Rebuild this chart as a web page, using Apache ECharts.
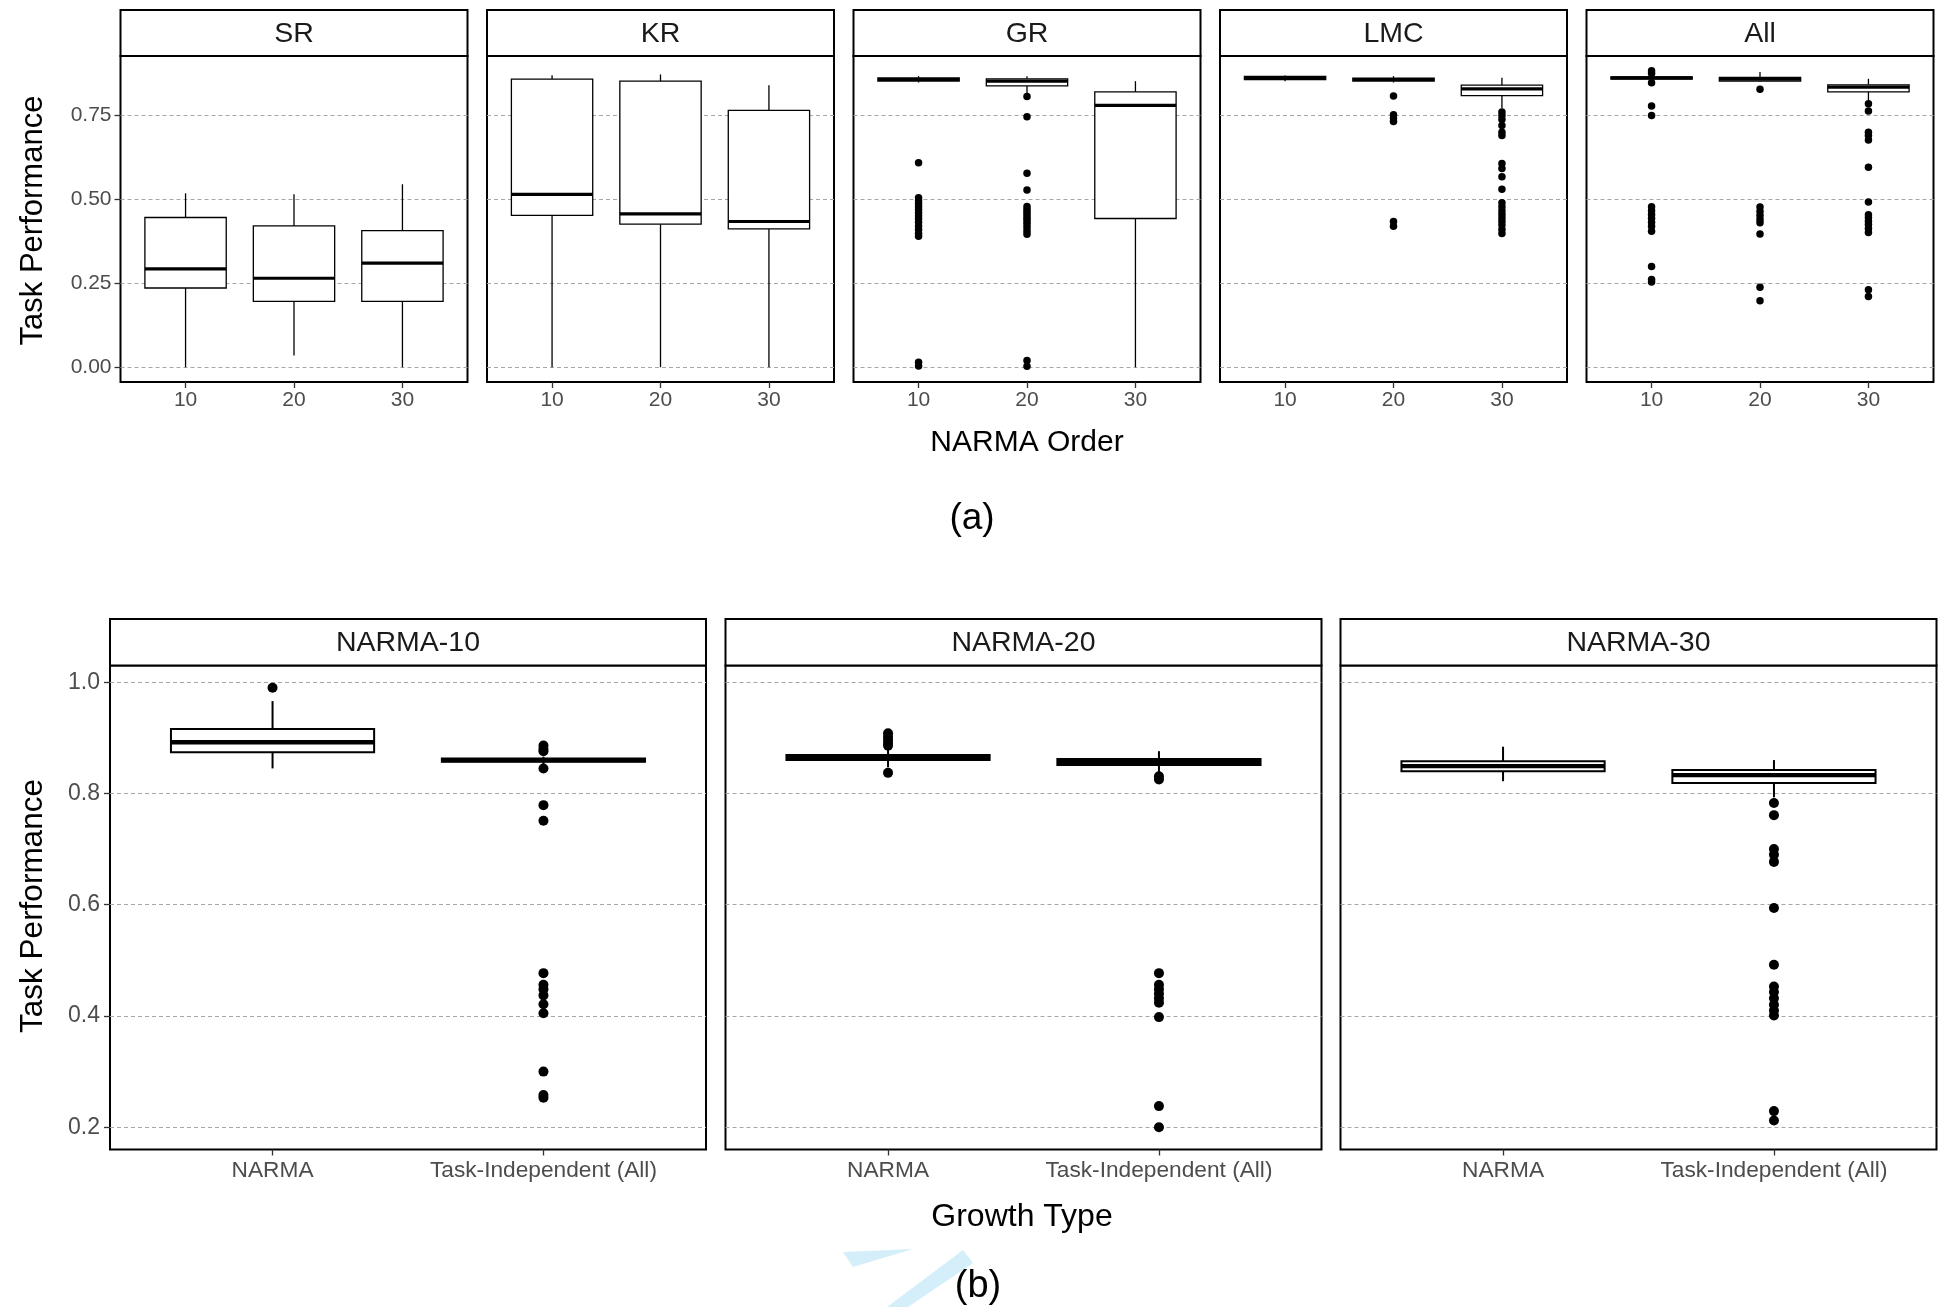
<!DOCTYPE html>
<html>
<head>
<meta charset="utf-8">
<script src="https://cdn.jsdelivr.net/npm/echarts@6/dist/echarts.min.js"></script>
<style>
  html, body { margin: 0; padding: 0; background: #fff; }
  #main { width: 1947px; height: 1307px; }
</style>
</head>
<body>
<div id="main"></div>
<script>
// ---- data (a): box stats are [lower whisker, Q1, median, Q3, upper whisker] per NARMA order
var orderLabels = ['10', '20', '30'];
var methodNames = ['SR', 'KR', 'GR', 'LMC', 'All'];
var topTicks = [0, 0.25, 0.5, 0.75];

var srBoxes = [[0, 0.236, 0.293, 0.446, 0.518], [0.035, 0.196, 0.265, 0.421, 0.515], [0, 0.196, 0.310, 0.407, 0.545]];
var krBoxes = [[0, 0.452, 0.515, 0.858, 0.870], [0, 0.426, 0.457, 0.852, 0.872], [0, 0.412, 0.434, 0.765, 0.840]];
var grBoxes = [[0.848, 0.852, 0.857, 0.862, 0.867], [0.816, 0.838, 0.852, 0.859, 0.867], [0, 0.443, 0.780, 0.820, 0.852]];
var lmcBoxes = [[0.852, 0.857, 0.862, 0.866, 0.869], [0.848, 0.852, 0.857, 0.861, 0.867], [0.771, 0.809, 0.829, 0.840, 0.862]];
var allBoxes = [[0.855, 0.858, 0.862, 0.865, 0.867], [0.850, 0.852, 0.858, 0.863, 0.879], [0.796, 0.820, 0.834, 0.841, 0.859]];

var srOut = [[], [], []];
var krOut = [[], [], []];
var grOut = [
    [0.609, 0.505, 0.496, 0.487, 0.478, 0.469, 0.460, 0.451, 0.442, 0.432, 0.421, 0.410, 0.398, 0.390, 0.015, 0.004],
    [0.806, 0.746, 0.578, 0.528, 0.479, 0.470, 0.462, 0.455, 0.447, 0.440, 0.432, 0.424, 0.415, 0.405, 0.396, 0.020, 0.003],
    []
];
var lmcOut = [
    [],
    [0.808, 0.752, 0.742, 0.732, 0.434, 0.420],
    [0.760, 0.750, 0.738, 0.720, 0.700, 0.690, 0.607, 0.592, 0.567, 0.530, 0.490, 0.478, 0.466, 0.456, 0.445, 0.435, 0.424, 0.410, 0.398]
];
var allOut = [
    [0.883, 0.875, 0.847, 0.778, 0.750, 0.478, 0.466, 0.455, 0.444, 0.432, 0.420, 0.405, 0.300, 0.261, 0.254],
    [0.828, 0.477, 0.464, 0.452, 0.440, 0.430, 0.397, 0.238, 0.198],
    [0.785, 0.763, 0.700, 0.690, 0.677, 0.596, 0.492, 0.454, 0.445, 0.435, 0.425, 0.413, 0.401, 0.231, 0.211]
];

// ---- data (b): per NARMA task, [NARMA growth, Task-Independent (All)]
var growthLabels = ['NARMA', 'Task-Independent (All)'];
var taskNames = ['NARMA-10', 'NARMA-20', 'NARMA-30'];
var bottomTicks = [0.2, 0.4, 0.6, 0.8, 1.0];

var n10Boxes = [[0.845, 0.874, 0.892, 0.916, 0.966], [0.853, 0.857, 0.860, 0.863, 0.866]];
var n20Boxes = [[0.847, 0.860, 0.864, 0.869, 0.879], [0.838, 0.851, 0.857, 0.862, 0.876]];
var n30Boxes = [[0.822, 0.840, 0.849, 0.858, 0.884], [0.793, 0.819, 0.833, 0.842, 0.860]];

var n10Out = [
    [0.990],
    [0.886, 0.880, 0.876, 0.845, 0.779, 0.751, 0.477, 0.456, 0.448, 0.437, 0.421, 0.405, 0.300, 0.258, 0.253]
];
var n20Out = [
    [0.908, 0.902, 0.896, 0.890, 0.886, 0.837],
    [0.831, 0.825, 0.477, 0.456, 0.448, 0.440, 0.432, 0.424, 0.398, 0.238, 0.200]
];
var n30Out = [
    [],
    [0.783, 0.761, 0.700, 0.690, 0.677, 0.594, 0.492, 0.453, 0.443, 0.432, 0.420, 0.410, 0.401, 0.229, 0.212]
];

(function () {
    var myChart = echarts.init(document.getElementById('main'));
    var FONT = '"Liberation Sans", Arial, Helvetica, sans-serif';

    // layout of the facets
    var top = { lefts: [120.5, 487, 853.5, 1220, 1586.5], width: 347, stripTop: 10, plotTop: 56, plotBottom: 382 };
    var bot = { lefts: [110, 725.5, 1340.5], width: 596, stripTop: 619, plotTop: 665.5, plotBottom: 1149.5 };

    var topBoxes = [srBoxes, krBoxes, grBoxes, lmcBoxes, allBoxes];
    var topOut = [srOut, krOut, grOut, lmcOut, allOut];
    var botBoxes = [n10Boxes, n20Boxes, n30Boxes];
    var botOut = [n10Out, n20Out, n30Out];

    // box drawn like ggplot: whiskers, white box, thick median
    function boxItem(lw, mw) {
        return function (params, api) {
            var x = api.value(0);
            var lo = api.coord([x, api.value(1)]);
            var q1 = api.coord([x, api.value(2)]);
            var md = api.coord([x, api.value(3)]);
            var q3 = api.coord([x, api.value(4)]);
            var hi = api.coord([x, api.value(5)]);
            var half = api.size([0.75, 0])[0] / 2;
            var line = { stroke: '#000', lineWidth: lw };
            return {
                type: 'group',
                children: [
                    { type: 'line', shape: { x1: hi[0], y1: hi[1], x2: q3[0], y2: q3[1] }, style: line },
                    { type: 'line', shape: { x1: q1[0], y1: q1[1], x2: lo[0], y2: lo[1] }, style: line },
                    { type: 'rect', shape: { x: q3[0] - half, y: q3[1], width: half * 2, height: q1[1] - q3[1] },
                      style: { fill: '#fff', stroke: '#000', lineWidth: lw } },
                    { type: 'line', shape: { x1: md[0] - half, y1: md[1], x2: md[0] + half, y2: md[1] },
                      style: { stroke: '#000', lineWidth: mw } }
                ]
            };
        };
    }

    var grid = [], xAxis = [], yAxis = [], series = [], graphic = [];

    function addPanel(idx, left, width, lay, cats, yMin, yMax, ticks, tickFmt, firstCol, boxes, outs, sizes) {
        var ncat = cats.length;
        var catVals = cats.map(function (c, i) { return i + 1; });
        grid.push({
            left: left, top: lay.plotTop, width: width, height: lay.plotBottom - lay.plotTop,
            show: true, backgroundColor: '#fff', borderColor: '#000', borderWidth: 2
        });
        xAxis.push({
            gridIndex: idx, type: 'value', min: 0.4, max: ncat + 0.6,
            axisLine: { show: false, onZero: false },
            splitLine: { show: false },
            axisTick: { customValues: catVals, length: 6, lineStyle: { color: '#333', width: 1.3 } },
            axisLabel: {
                customValues: catVals, color: '#4d4d4d', fontSize: sizes.xTick, fontFamily: FONT, margin: sizes.xMargin,
                formatter: function (v) { return cats[Math.round(v) - 1]; }
            }
        });
        yAxis.push({
            gridIndex: idx, type: 'value', min: yMin, max: yMax,
            axisLine: { show: false, onZero: false },
            axisTick: { show: firstCol, customValues: ticks, length: 6, lineStyle: { color: '#333', width: 1.3 } },
            axisLabel: {
                show: firstCol, customValues: ticks, color: '#4d4d4d', fontSize: sizes.yTick, fontFamily: FONT, margin: sizes.yMargin,
                formatter: tickFmt
            },
            splitLine: { show: true, lineStyle: { color: '#a6a6a6', width: 1, type: [4, 3] } }
        });
        series.push({
            type: 'custom', xAxisIndex: idx, yAxisIndex: idx,
            renderItem: boxItem(sizes.lw, sizes.mw),
            encode: { x: 0, y: [1, 2, 3, 4, 5] },
            data: boxes.map(function (b, i) { return [i + 1].concat(b); }),
            z: 3, silent: true
        });
        var pts = [];
        outs.forEach(function (list, i) {
            list.forEach(function (v) { pts.push([i + 1, v]); });
        });
        series.push({
            type: 'scatter', xAxisIndex: idx, yAxisIndex: idx,
            symbol: 'circle', symbolSize: sizes.dot,
            itemStyle: { color: '#000', opacity: 1 },
            data: pts, z: 2, silent: true
        });
        // facet strip
        graphic.push({
            type: 'rect', z: 10,
            shape: { x: left, y: lay.stripTop, width: width, height: lay.plotTop - lay.stripTop },
            style: { fill: '#fff', stroke: '#000', lineWidth: 2 }
        });
    }

    var topSizes = { xTick: 21, yTick: 21, xMargin: 8, yMargin: 9, lw: 1.3, mw: 3.2, dot: 7.5 };
    topBoxes.forEach(function (b, i) {
        addPanel(i, top.lefts[i], top.width, top, orderLabels, -0.044, 0.927, topTicks,
            function (v) { return v.toFixed(2); }, i === 0, b, topOut[i], topSizes);
        graphic.push({
            type: 'text', z: 11, x: top.lefts[i] + top.width / 2, y: (top.stripTop + top.plotTop) / 2 + 1,
            style: { text: methodNames[i], fontSize: 28.5, fontFamily: FONT, fill: '#1a1a1a', align: 'center', verticalAlign: 'middle' }
        });
    });

    var botSizes = { xTick: 22.7, yTick: 23, xMargin: 10, yMargin: 10, lw: 2, mw: 4.3, dot: 10 };
    botBoxes.forEach(function (b, i) {
        addPanel(5 + i, bot.lefts[i], bot.width, bot, growthLabels, 0.16, 1.03, bottomTicks,
            function (v) { return v.toFixed(1); }, i === 0, b, botOut[i], botSizes);
        graphic.push({
            type: 'text', z: 11, x: bot.lefts[i] + bot.width / 2, y: (bot.stripTop + bot.plotTop) / 2 + 1,
            style: { text: taskNames[i], fontSize: 28.5, fontFamily: FONT, fill: '#1a1a1a', align: 'center', verticalAlign: 'middle' }
        });
    });

    // axis titles and panel captions
    function label(text, x, y, size, rot) {
        graphic.push({
            type: 'text', z: 11, x: x, y: y, rotation: rot || 0,
            style: { text: text, fontSize: size, fontFamily: FONT, fill: '#000', align: 'center', verticalAlign: 'middle' }
        });
    }
    label('Task Performance', 33.5, (top.plotTop + top.plotBottom) / 2 + 1.5, 31, Math.PI / 2);
    label('NARMA Order', 1027, 443, 30);
    label('(a)', 972, 519, 37);
    label('Task Performance', 33.5, (bot.plotTop + bot.plotBottom) / 2 - 1.5, 31.5, Math.PI / 2);
    label('Growth Type', 1022, 1217, 32);

    // faint watermark strokes behind "(b)"
    graphic.push({ type: 'polygon', z: 1, shape: { points: [[843, 1252], [913, 1249], [853, 1267]] }, style: { fill: '#d5effa' } });
    graphic.push({ type: 'polygon', z: 1, shape: { points: [[963, 1250], [973, 1263], [908, 1307], [887, 1307]] }, style: { fill: '#d5effa' } });
    label('(b)', 978, 1287, 38);

    var option = {
        backgroundColor: '#fff',
        animation: false,
        grid: grid,
        xAxis: xAxis,
        yAxis: yAxis,
        series: series,
        graphic: graphic
    };
    myChart.setOption(option);
    window.addEventListener('resize', function () {
        myChart.resize();
    });
})();
</script>
</body>
</html>
